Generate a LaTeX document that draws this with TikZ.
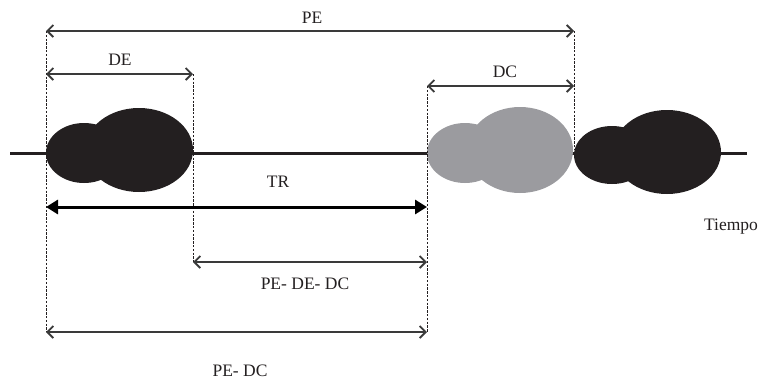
\documentclass[tikz,border=0pt]{standalone}
\usepackage{fontspec}
\setmainfont{Liberation Serif}
\usetikzlibrary{arrows.meta}
\definecolor{ink}{HTML}{231F20}
\definecolor{blobgray}{HTML}{9B9B9F}
\definecolor{dimline}{HTML}{3A3A3A}
\begin{document}
\begin{tikzpicture}[x=1pt,y=-1pt,
  barb/.tip={Straight Barb[length=6pt,width=12pt,line width=1.8pt]},
  dimarrow/.style={draw=dimline, line width=2.8pt, barb-barb},
  bigarrow/.style={draw=black, line width=3pt, {Triangle[length=12pt,width=14pt]}-{Triangle[length=12pt,width=14pt]}},
  guide/.style={draw=ink, line width=1pt, dash pattern=on 2.4pt off 1.4pt},
  lbl/.style={text=ink, font=\fontsize{17.5}{20}\selectfont, inner sep=0pt}]
\useasboundingbox (0,0) rectangle (769,381);

% time axis
\coordinate (t0) at (10,153);
\coordinate (t1) at (747,153);
\draw[ink, line width=3pt] (t0) -- (t1);

% bursts on the time axis
\fill[ink] (84,153) ellipse [x radius=38, y radius=30];
\fill[ink] (139,150) ellipse [x radius=54, y radius=42];
\fill[blobgray] (465,153) ellipse [x radius=38, y radius=30];
\fill[blobgray] (520,150) ellipse [x radius=53, y radius=43];
\fill[ink] (612,155) ellipse [x radius=38, y radius=29];
\fill[ink] (667,152) ellipse [x radius=54, y radius=42];

% reference points
\coordinate (peL) at (46,31);
\coordinate (peR) at (574,31);
\coordinate (deL) at (46,74);
\coordinate (deR) at (193,74);
\coordinate (dcL) at (427,86);
\coordinate (dcR) at (574,86);
\coordinate (trL) at (46,207);
\coordinate (trR) at (427,207);
\coordinate (pddL) at (193,262);
\coordinate (pddR) at (427,262);
\coordinate (pdL) at (46,332);
\coordinate (pdR) at (427,332);
\coordinate (peRb) at (574,150);

% dashed guide lines
\draw[guide] (peL) -- (pdL);
\draw[guide] (deR) -- (pddR -| deR);
\draw[guide] (dcL) -- (pdR);
\draw[guide] (peR) -- (peRb);

% intervals
\draw[dimarrow] (peL) -- (peR);
\draw[dimarrow] (deL) -- (deR);
\draw[dimarrow] (dcL) -- (dcR);
\draw[bigarrow] (trL) -- (trR);
\draw[dimarrow] (pddL) -- (pddR);
\draw[dimarrow] (pdL) -- (pdR);

% labels
\node[lbl] (lpe) at (312,18) {PE};
\node[lbl] (lde) at (120,60) {DE};
\node[lbl] (ldc) at (505,72) {DC};
\node[lbl] (ltr) at (278,182) {TR};
\node[lbl] (lpdd) at (305,284) {PE- DE- DC};
\node[lbl] (lpd) at (240,371) {PE- DC};
\node[lbl] (ltiempo) at (731,227) {Tiempo};
\end{tikzpicture}
\end{document}
